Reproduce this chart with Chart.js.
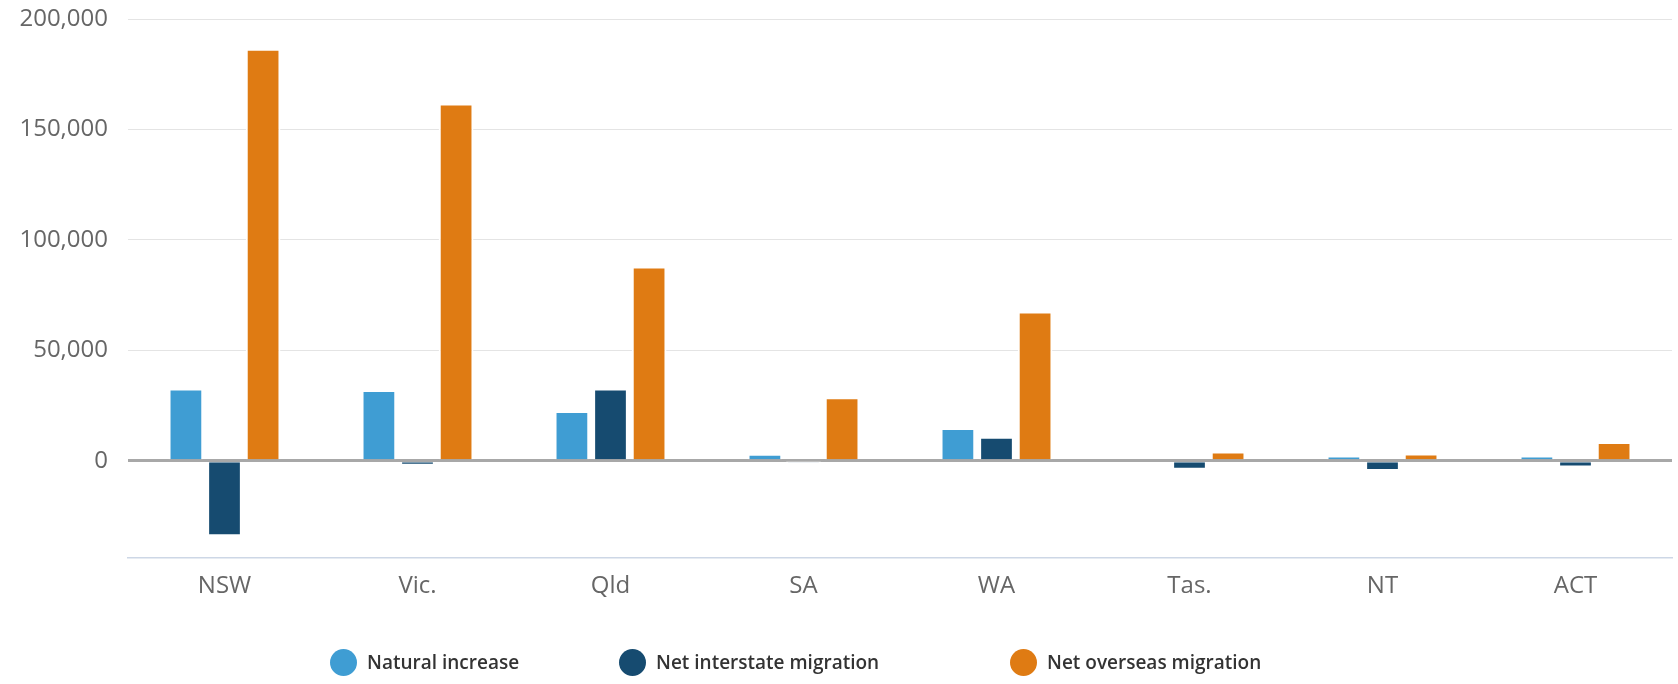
<!DOCTYPE html>
<html>
<head>
<meta charset="utf-8">
<script src="https://cdn.jsdelivr.net/npm/chart.js@4/dist/chart.umd.min.js"></script>
<style>
  body { margin: 0; background: #fff; font-family: "Open Sans", sans-serif; }
  #caja { position: relative; width: 1678px; height: 684px; overflow: hidden; }
  #crecimiento { position: absolute; left: 0; top: 0; }
  #leyenda { position: absolute; left: 0; top: 648px; width: 1678px; height: 30px; }
  .item { position: absolute; top: 0; display: flex; align-items: center; height: 28px; }
  .punto { width: 27px; height: 27px; border-radius: 50%; margin-right: 10px; }
  .texto { font-size: 19px; font-weight: 600; color: #333; white-space: nowrap; }
</style>
</head>
<body>
<div id="caja">
  <canvas id="crecimiento" width="1678" height="684"></canvas>
  <div id="leyenda"></div>
</div>
<script>
// estados y territorios
const estados = ["NSW", "Vic.", "Qld", "SA", "WA", "Tas.", "NT", "ACT"];
// componentes del crecimiento de población
const natural = [32700, 32000, 22600, 3200, 14900, 0, 2400, 2400];
const interestatal = [-34200, -2000, 32700, -300, 10900, -4000, -4600, -3000];
const ultramar = [186500, 161800, 88000, 28800, 67600, 4200, 3300, 8500];
// nombres y colores de las series
const nombres = ["Natural increase", "Net interstate migration", "Net overseas migration"];
const colores = ["#3f9dd3", "#164b70", "#df7b13"];
// marcas del eje y
const marcasY = [0, 50000, 100000, 150000, 200000];

const series = [natural, interestatal, ultramar];

new Chart(document.getElementById("crecimiento"), {
    type: "bar",
    data: {
        labels: estados,
        datasets: series.map((valores, i) => ({
            label: nombres[i],
            data: valores,
            backgroundColor: colores[i],
            borderColor: "#ffffff",
            borderWidth: 2,
            categoryPercentage: 0.6,
            barPercentage: 0.9,
        })),
    },
    options: {
        responsive: false,
        animation: false,
        layout: { padding: { top: 19, left: 0, right: 6, bottom: 0 } },
        plugins: { legend: { display: false }, tooltip: { enabled: false } },
        scales: {
            x: {
                afterFit: (escala) => { escala.height = 126; },
                grid: { display: false, drawTicks: false },
                border: { display: true, color: "#cdd7e6", width: 1.5 },
                ticks: { color: "#666", padding: 14, font: { family: "Open Sans", size: 24 } },
            },
            y: {
                min: -44000,
                max: 200000,
                afterFit: (escala) => {
                    escala.width = 128;
                    // que las etiquetas no empujen el área del gráfico
                    escala.paddingTop = 0;
                    escala.paddingBottom = 0;
                },
                afterBuildTicks: (escala) => {
                    escala.ticks = marcasY.map((v) => ({ value: v }));
                },
                border: { display: false },
                grid: {
                    drawTicks: false,
                    color: (ctx) => (ctx.tick && ctx.tick.value === 0 ? "#a8a8a8" : "#e4e4e4"),
                    lineWidth: (ctx) => (ctx.tick && ctx.tick.value === 0 ? 3 : 1),
                },
                ticks: {
                    color: "#666",
                    padding: 20,
                    font: { family: "Open Sans", size: 24 },
                    callback: (v) => v.toLocaleString("en-US"),
                },
            },
        },
    },
});

// leyenda en html, a partir de las mismas series
const posiciones = [330, 619, 1010];
const leyenda = document.getElementById("leyenda");
nombres.forEach((nombre, i) => {
    const item = document.createElement("div");
    item.className = "item";
    item.style.left = posiciones[i] + "px";
    item.innerHTML = '<span class="punto" style="background:' + colores[i] + '"></span><span class="texto">' + nombre + "</span>";
    leyenda.appendChild(item);
});
</script>
</body>
</html>
